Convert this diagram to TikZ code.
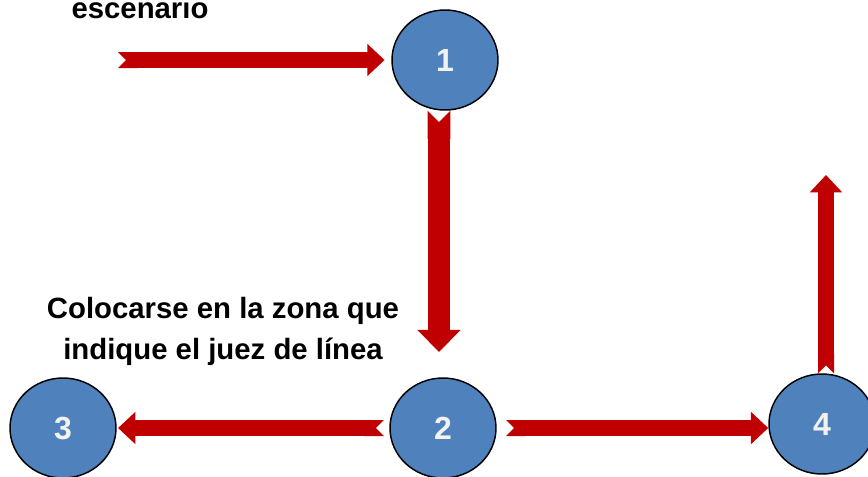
\documentclass[tikz,border=0pt]{standalone}
\usepackage{fontspec}
\setmainfont{Liberation Sans}
\usetikzlibrary{arrows.meta,shapes.geometric}
\definecolor{stepblue}{HTML}{4F81BD}
\definecolor{arrowred}{HTML}{C00000}
\definecolor{digitgray}{HTML}{F2F2F2}

\begin{document}
\begin{tikzpicture}[x=0.75pt,y=-0.75pt,
                    main node/.style={ellipse,draw=black,line width=1.1pt,fill=stepblue,minimum width=79.5pt,minimum height=75pt,inner sep=0pt,text=digitgray,font=\bfseries\fontsize{24}{28}\selectfont},
                    big arrow/.style={draw=arrowred,line width=12pt,arrows={Triangle Cap[reversed]-Triangle[width=23.5pt,length=13pt]}},
                    fat arrow/.style={draw=arrowred,line width=17pt,arrows={Triangle Cap[reversed]-Triangle[width=31.5pt,length=16.5pt]}},
                    label text/.style={align=center,font=\bfseries\fontsize{22}{30.75}\selectfont}]

  \useasboundingbox (0,0) rectangle (868,476);

  \node[main node] (1) at (445,60) {1};
  \node[main node] (2) at (443,428) {2};
  \node[main node] (3) at (63,428) {3};
  \node[main node] (4) at (822,424) {4};

  \coordinate (start) at (118,60);
  \coordinate (exit) at (826,175);

  \node[label text,anchor=base] (esc) at (140,18) {escenario};
  \node[label text] (zona) at (223,331) {Colocarse en la zona que\\indique el juez de línea};

  % recorrido
  \draw[big arrow,shorten >=5pt] (start) -- (1);
  \draw[fat arrow,shorten >=19pt] ([xshift=-4.5pt]1.south) -- ([xshift=-4.5pt]1.south |- 2.north);
  \draw[big arrow,shorten <=4pt,shorten >=1pt] (2) -- (3);
  \draw[big arrow,shorten <=7pt] (2) -- (2 -| 4.west);
  \draw[big arrow] (4.north -| exit) -- (exit);
\end{tikzpicture}
\end{document}
